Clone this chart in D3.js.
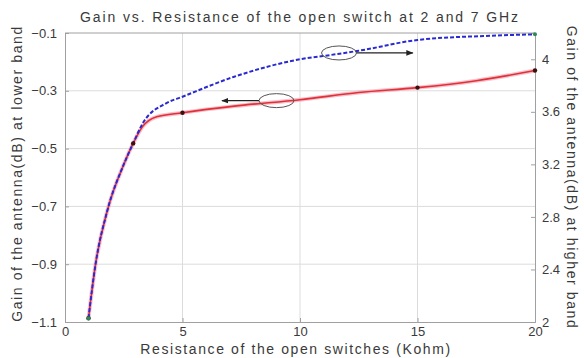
<!DOCTYPE html>
<html>
<head>
<meta charset="utf-8">
<script src="https://cdn.jsdelivr.net/npm/d3@7"></script>
<style>
  body { margin: 0; background: #fff; }
  svg { display: block; }
  text { font-family: "Liberation Sans", Arial, sans-serif; fill: #3a3a3a; }
</style>
</head>
<body>
<svg id="chart" width="584" height="358"></svg>
<script>
// resistance of the open switches (Kohm)
var lowX = [1, 1.3, 1.8, 2.5, 2.9, 3.3, 3.9, 5, 7.2, 10, 12.5, 15, 17.5, 20];
// gain at the lower band, 2 GHz (dB) - left axis
var lowGain = [-1.087, -0.9, -0.715, -0.555, -0.482, -0.424, -0.39, -0.376, -0.353, -0.331, -0.306, -0.289, -0.265, -0.23];

var highX = [1, 1.3, 1.8, 2.5, 2.9, 3.3, 4.3, 5, 7.2, 10, 11.6, 12.5, 15, 17.8, 20];
// gain at the higher band, 7 GHz (dB) - right axis
var highGain = [2.029, 2.44, 2.847, 3.199, 3.36, 3.51, 3.665, 3.715, 3.867, 4.0, 4.04, 4.065, 4.147, 4.177, 4.19];

var lowMarks = [1, 5, 15, 20];
var highMarks = [1, 20];
var jointMark = 2.9;

var xTicks = [0, 5, 10, 15, 20];
var leftTicks = [-0.1, -0.3, -0.5, -0.7, -0.9, -1.1];
var rightTicks = [2, 2.4, 2.8, 3.2, 3.6, 4];

var svg = d3.select('#chart');
var margin = { top: 33, right: 49, bottom: 36, left: 65 },
    W = 584, H = 358,
    w = W - margin.left - margin.right,
    h = H - margin.top - margin.bottom;

var x = d3.scaleLinear().domain([0, 20]).range([margin.left, margin.left + w]);
var yL = d3.scaleLinear().domain([-1.1, -0.1]).range([margin.top + h, margin.top]);
var yR = d3.scaleLinear().domain([2, 4.2]).range([margin.top + h, margin.top]);

// grid
var grid = svg.append('g').attr('class', 'grid');
grid.selectAll('line.gx')
    .data(xTicks.slice(1, -1))
  .enter().append('line')
    .attr('x1', x).attr('x2', x)
    .attr('y1', margin.top).attr('y2', margin.top + h)
    .attr('stroke', '#dcdcdc').attr('stroke-width', 1);
grid.selectAll('line.gy')
    .data(leftTicks.slice(1, -1))
  .enter().append('line')
    .attr('x1', margin.left).attr('x2', margin.left + w)
    .attr('y1', yL).attr('y2', yL)
    .attr('stroke', '#dcdcdc').attr('stroke-width', 1);

// axes (ticks inside, matlab style)
svg.append('g')
    .attr('transform', 'translate(0,' + (margin.top + h) + ')')
    .call(d3.axisBottom(x).tickValues(xTicks).tickSize(-4).tickPadding(5).tickFormat(d3.format('d')))
    .call(styleAxis);
svg.append('g')
    .attr('transform', 'translate(' + margin.left + ',0)')
    .call(d3.axisLeft(yL).tickValues(leftTicks).tickSize(-4).tickPadding(8).tickFormat(d3.format('.1f')))
    .call(styleAxis);
svg.append('g')
    .attr('transform', 'translate(' + (margin.left + w) + ',0)')
    .call(d3.axisRight(yR).tickValues(rightTicks).tickSize(-4).tickPadding(7).tickFormat(function (d) { return d3.format('.1f')(d).replace('.0', ''); }))
    .call(styleAxis);
svg.append('line')
    .attr('x1', margin.left).attr('x2', margin.left + w)
    .attr('y1', margin.top).attr('y2', margin.top)
    .attr('stroke', '#a0a0a0');

function styleAxis(g) {
  g.select('.domain').attr('stroke', '#a0a0a0');
  g.selectAll('.tick line').attr('stroke', '#a0a0a0');
  g.selectAll('.tick text').attr('font-size', 13).attr('fill', '#3a3a3a')
    .style('font-family', '"Liberation Sans", Arial, sans-serif');
}

// series
var lowLine = d3.line()
    .x(function (d, i) { return x(lowX[i]); })
    .y(function (d) { return yL(d); })
    .curve(d3.curveMonotoneX);
var highLine = d3.line()
    .x(function (d, i) { return x(highX[i]); })
    .y(function (d) { return yR(d); })
    .curve(d3.curveMonotoneX);

svg.append('path')
    .attr('d', lowLine(lowGain))
    .attr('fill', 'none')
    .attr('stroke', '#f4a6b4').attr('stroke-width', 4).attr('stroke-opacity', 0.7);
svg.append('path')
    .attr('d', lowLine(lowGain))
    .attr('fill', 'none')
    .attr('stroke', '#e0303a').attr('stroke-width', 1.6);
svg.append('path')
    .attr('d', highLine(highGain))
    .attr('fill', 'none')
    .attr('stroke', '#2a2ad0').attr('stroke-width', 2)
    .attr('stroke-dasharray', '4,2');

svg.selectAll('circle.lm')
    .data(lowMarks.concat([jointMark]))
  .enter().append('circle')
    .attr('cx', x)
    .attr('cy', function (d) { return yL(lowGain[lowX.indexOf(d)]); })
    .attr('r', 2.2)
    .attr('fill', '#3a1010');
svg.selectAll('circle.hm')
    .data(highMarks)
  .enter().append('circle')
    .attr('cx', x)
    .attr('cy', function (d) { return yR(highGain[highX.indexOf(d)]); })
    .attr('r', 2)
    .attr('fill', '#2f8a5a');

// annotations: ellipses with arrows to their axis
var notes = [
  { cx: 9.0, cy: yL(-0.334), to: 6.68, dir: -1 },
  { cx: 11.66, cy: yR(4.048), to: 14.8, dir: 1 }
];
var defs = svg.append('defs');
defs.append('marker')
    .attr('id', 'head')
    .attr('viewBox', '0 0 10 10')
    .attr('refX', 9).attr('refY', 5)
    .attr('markerWidth', 6).attr('markerHeight', 6)
    .attr('orient', 'auto')
  .append('path')
    .attr('d', 'M0,1L10,5L0,9Z')
    .attr('fill', '#222');

var ann = svg.append('g');
ann.selectAll('ellipse')
    .data(notes)
  .enter().append('ellipse')
    .attr('cx', function (d) { return x(d.cx); })
    .attr('cy', function (d) { return d.cy; })
    .attr('rx', 17.5).attr('ry', 7)
    .attr('fill', 'none')
    .attr('stroke', '#555').attr('stroke-width', 1);
ann.selectAll('line')
    .data(notes)
  .enter().append('line')
    .attr('x1', function (d) { return x(d.cx) + d.dir * 17.5; })
    .attr('x2', function (d) { return x(d.to); })
    .attr('y1', function (d) { return d.cy; })
    .attr('y2', function (d) { return d.cy; })
    .attr('stroke', '#222').attr('stroke-width', 1.2)
    .attr('marker-end', 'url(#head)');

// titles
svg.append('text')
    .attr('x', margin.left + w / 2).attr('y', 22)
    .attr('text-anchor', 'middle')
    .attr('font-size', 14)
    .attr('letter-spacing', 1.9)
    .text('Gain vs. Resistance of the open switch at 2 and 7 GHz');
svg.append('text')
    .attr('x', margin.left + w / 2 - 4).attr('y', 354)
    .attr('text-anchor', 'middle')
    .attr('font-size', 14)
    .attr('letter-spacing', 1.6)
    .text('Resistance of the open switches (Kohm)');
svg.append('text')
    .attr('transform', 'translate(22,' + (margin.top + h / 2 - 4) + ') rotate(-90)')
    .attr('text-anchor', 'middle')
    .attr('font-size', 14)
    .attr('letter-spacing', 1.6)
    .text('Gain of the antenna(dB) at lower band');
svg.append('text')
    .attr('transform', 'translate(567,' + (margin.top + h / 2) + ') rotate(90)')
    .attr('text-anchor', 'middle')
    .attr('font-size', 14)
    .attr('letter-spacing', 1.6)
    .text('Gain of the antenna(dB) at higher band');
</script>
</body>
</html>
